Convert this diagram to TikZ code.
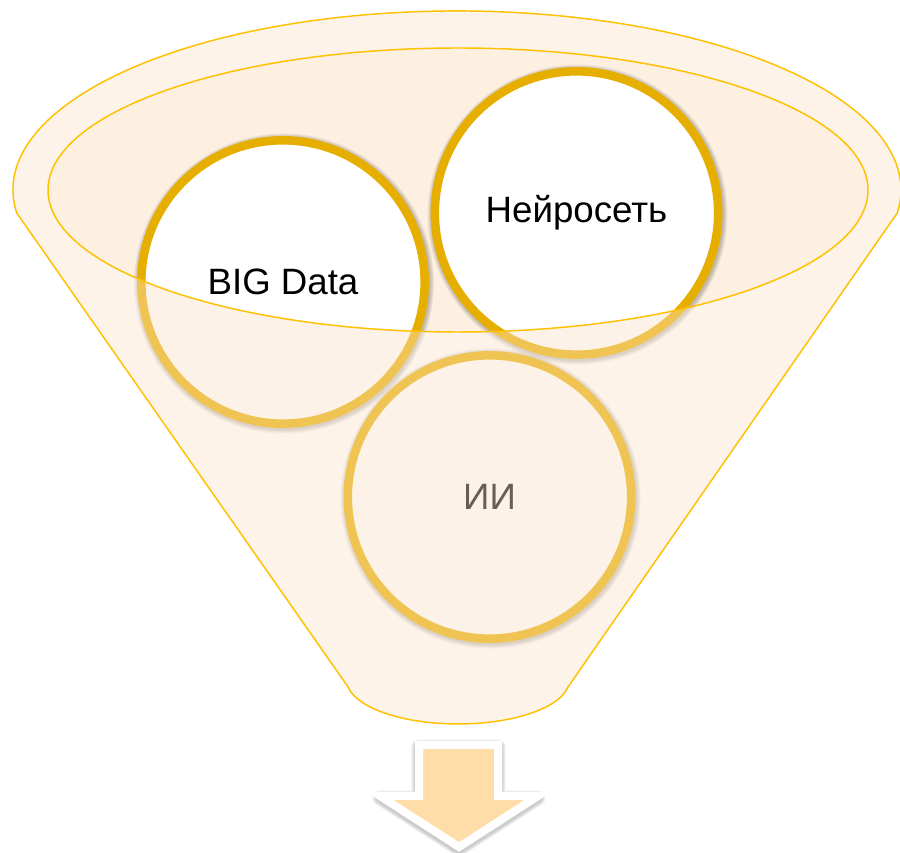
\documentclass[tikz,border=0pt]{standalone}
\usepackage{fontspec}
\setmainfont{Liberation Sans}
\definecolor{rimgold}{HTML}{FFC000}
\definecolor{ringgold}{HTML}{E6AF00}
\definecolor{funnelpeach}{RGB}{252,226,200}
\definecolor{mouthfill}{HTML}{FDF0E1}
\definecolor{arrowfill}{HTML}{FFDDA8}
\begin{document}
\begin{tikzpicture}[x=0.75pt,y=0.75pt,
  bubble/.style={circle, draw=ringgold, line width=6.4pt, fill=white,
    minimum size=212.5pt, inner sep=0pt, font=\fontsize{27.5}{33}\selectfont},
  rim/.style={draw=rimgold, line width=1.1pt},
  bubbleshadow/.style={black, opacity=0.05},
]
\useasboundingbox (0,0) rectangle (900,853);

% outline of the funnel: rim ellipse on top, straight sides, rounded spout
\def\funnelpath{(16.7,640) arc[start angle=187.4, end angle=-7.4, x radius=444, y radius=179]
  -- (568,166) arc[start angle=-9.2, end angle=-170.8, x radius=111.4, y radius=44] -- cycle}
\def\mouthpath{(458,663) ellipse[x radius=410, y radius=142]}
\def\arrowpath{(419,108) -- (498,108) -- (498,57) -- (538,57) -- (459,6) -- (380,57) -- (419,57) -- cycle}

% back of the funnel: the open mouth
\fill[mouthfill] \mouthpath;

% the three bubbles with soft shadows
\coordinate (bigc) at (283,571);
\coordinate (netc) at (576.5,640);
\coordinate (aic)  at (489.5,356);
\foreach \c in {bigc,netc,aic}{
  \foreach \k in {1,...,5}{
    \fill[bubbleshadow] ([shift={(1,-1.5)}]\c) circle[radius=145.5+\k*0.9];
  }
}
\node[bubble] (big) at (bigc) {BIG Data};
\node[bubble] (net) at (netc) {Нейросеть};
\node[bubble] (ai)  at (aic)  {ИИ};

% translucent front of the funnel over the bubbles
\fill[funnelpeach, fill opacity=0.42, even odd rule] \funnelpath \mouthpath;

% funnel outlines
\draw[rim] \funnelpath;
\draw[rim] \mouthpath;

% down arrow below the spout
\foreach \k in {1,...,5}{
  \draw[black, opacity=0.045, line width=6pt+\k*1.1pt, line join=round,
    yshift=-1.5pt] \arrowpath;
}
\draw[draw=white, fill=arrowfill, line width=6pt, line join=miter] \arrowpath;
\end{tikzpicture}
\end{document}
